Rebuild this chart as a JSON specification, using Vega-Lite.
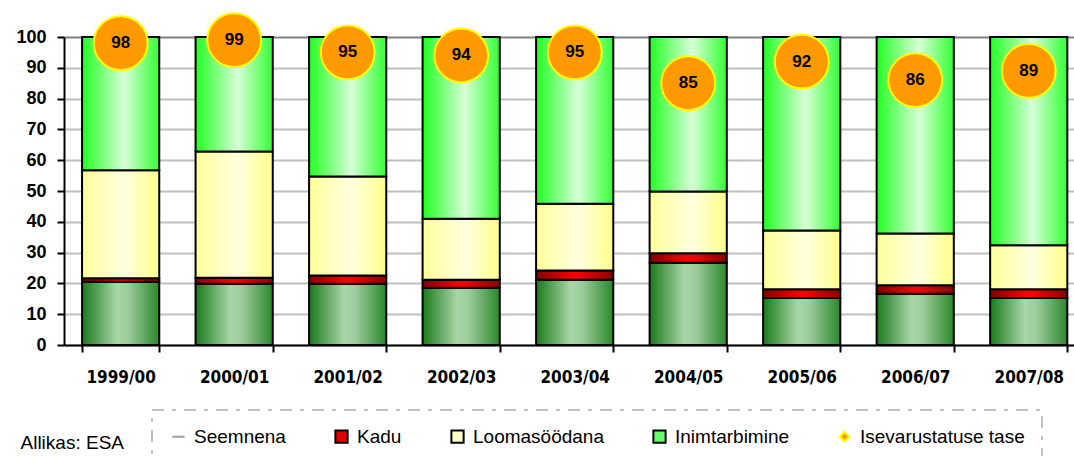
{
  "$schema": "https://vega.github.io/schema/vega-lite/v6.json",
  "width": 1010,
  "height": 308,
  "autosize": {"type": "none"},
  "padding": {"left": 64, "top": 37, "right": 0, "bottom": 111},
  "background": "white",
  "config": {"view": {"stroke": null}, "font": "Liberation Sans"},
  "datasets": {
    "bars": [
      {"period": "1999/00", "kat": "Seemnena", "ord": 1, "value": 20.5},
      {"period": "1999/00", "kat": "Kadu", "ord": 2, "value": 1.2},
      {"period": "1999/00", "kat": "Loomasöödana", "ord": 3, "value": 35.0},
      {"period": "1999/00", "kat": "Inimtarbimine", "ord": 4, "value": 43.3},
      {"period": "2000/01", "kat": "Seemnena", "ord": 1, "value": 19.9},
      {"period": "2000/01", "kat": "Kadu", "ord": 2, "value": 1.9},
      {"period": "2000/01", "kat": "Loomasöödana", "ord": 3, "value": 41.0},
      {"period": "2000/01", "kat": "Inimtarbimine", "ord": 4, "value": 37.2},
      {"period": "2001/02", "kat": "Seemnena", "ord": 1, "value": 19.9},
      {"period": "2001/02", "kat": "Kadu", "ord": 2, "value": 2.7},
      {"period": "2001/02", "kat": "Loomasöödana", "ord": 3, "value": 32.1},
      {"period": "2001/02", "kat": "Inimtarbimine", "ord": 4, "value": 45.3},
      {"period": "2002/03", "kat": "Seemnena", "ord": 1, "value": 18.6},
      {"period": "2002/03", "kat": "Kadu", "ord": 2, "value": 2.6},
      {"period": "2002/03", "kat": "Loomasöödana", "ord": 3, "value": 19.8},
      {"period": "2002/03", "kat": "Inimtarbimine", "ord": 4, "value": 59.0},
      {"period": "2003/04", "kat": "Seemnena", "ord": 1, "value": 21.2},
      {"period": "2003/04", "kat": "Kadu", "ord": 2, "value": 3.0},
      {"period": "2003/04", "kat": "Loomasöödana", "ord": 3, "value": 21.7},
      {"period": "2003/04", "kat": "Inimtarbimine", "ord": 4, "value": 54.1},
      {"period": "2004/05", "kat": "Seemnena", "ord": 1, "value": 26.7},
      {"period": "2004/05", "kat": "Kadu", "ord": 2, "value": 3.1},
      {"period": "2004/05", "kat": "Loomasöödana", "ord": 3, "value": 20.0},
      {"period": "2004/05", "kat": "Inimtarbimine", "ord": 4, "value": 50.2},
      {"period": "2005/06", "kat": "Seemnena", "ord": 1, "value": 15.3},
      {"period": "2005/06", "kat": "Kadu", "ord": 2, "value": 2.8},
      {"period": "2005/06", "kat": "Loomasöödana", "ord": 3, "value": 19.1},
      {"period": "2005/06", "kat": "Inimtarbimine", "ord": 4, "value": 62.8},
      {"period": "2006/07", "kat": "Seemnena", "ord": 1, "value": 16.6},
      {"period": "2006/07", "kat": "Kadu", "ord": 2, "value": 2.8},
      {"period": "2006/07", "kat": "Loomasöödana", "ord": 3, "value": 16.8},
      {"period": "2006/07", "kat": "Inimtarbimine", "ord": 4, "value": 63.8},
      {"period": "2007/08", "kat": "Seemnena", "ord": 1, "value": 15.3},
      {"period": "2007/08", "kat": "Kadu", "ord": 2, "value": 2.8},
      {"period": "2007/08", "kat": "Loomasöödana", "ord": 3, "value": 14.3},
      {"period": "2007/08", "kat": "Inimtarbimine", "ord": 4, "value": 67.6}
    ],
    "tase": [
      {"period": "1999/00", "tase": 98},
      {"period": "2000/01", "tase": 99},
      {"period": "2001/02", "tase": 95},
      {"period": "2002/03", "tase": 94},
      {"period": "2003/04", "tase": 95},
      {"period": "2004/05", "tase": 85},
      {"period": "2005/06", "tase": 92},
      {"period": "2006/07", "tase": 86},
      {"period": "2007/08", "tase": 89}
    ]
  },
  "encoding": {
    "x": {
      "field": "period", "type": "ordinal",
      "scale": {"paddingInner": 0.32, "paddingOuter": 0.109, "align": 0.73},
      "axis": {"title": "Allikas: ESA", "titleX": -44, "titleY": 103, "titleAlign": "left", "titleAnchor": "start", "titleBaseline": "alphabetic", "titleFontWeight": "normal", "titleFontSize": 19, "titleFont": "Liberation Sans", "titleColor": "black",
        "labelAngle": 0, "tickBand": "extent", "domainColor": "black", "domainWidth": 2, "tickColor": "black", "tickWidth": 2, "tickSize": 7, "labelPadding": 17, "labelFontSize": 17, "labelFontWeight": "bold", "labelFont": "Liberation Sans Narrow, DejaVu Sans Condensed, sans-serif", "labelColor": "black"}
    },
    "y": {"type": "quantitative",
      "scale": {"domain": [0, 100], "nice": false},
      "axis": {"title": null, "values": [0, 10, 20, 30, 40, 50, 60, 70, 80, 90, 100], "labelOverlap": false, "labelFont": "Liberation Sans", "labelFontSize": 18, "labelFontWeight": "bold", "labelColor": "black", "domainColor": "black", "domainWidth": 2, "tickColor": "black", "tickWidth": 2, "tickSize": 7, "labelPadding": 11, "gridColor": {"condition": {"test": "datum.value === 100", "value": "#808080"}, "value": "#c0c0c0"}, "gridWidth": 2}
    }
  },
  "layer": [
    {
      "data": {"name": "bars"},
      "transform": [
        {"stack": "value", "groupby": ["period"], "sort": [{"field": "ord", "order": "ascending"}], "as": ["y0", "y1"]}
      ],
      "encoding": {
        "y": {"field": "y0", "type": "quantitative"},
        "y2": {"field": "y1"}
      },
      "layer": [
        {
          "mark": {"type": "bar"},
          "encoding": {
            "color": {
              "field": "kat", "type": "nominal",
              "scale": {"domain": ["Seemnena", "Kadu", "Loomasöödana", "Inimtarbimine", "Isevarustatuse tase"], "range": ["#3a8f3a", "#e00000", "#ffffc0", "#66ff66", "#ff9900"]},
              "legend": {
                "orient": "none", "legendX": 88, "legendY": 373, "direction": "horizontal", "title": null,
                "labelFontSize": 19, "labelFont": "Liberation Sans", "labelColor": "black", "labelLimit": 400,
                "symbolSize": 150, "columnPadding": 45, "padding": 17, "strokeColor": "#c0c0c0", "labelOffset": 6,
                "encode": {
                  "legend": {"update": {"strokeDash": {"value": [12, 8, 4, 8]}, "strokeWidth": {"value": 2}}},
                  "symbols": {"update": {
                    "shape": {"signal": "datum.value === 'Seemnena' ? 'stroke' : datum.value === 'Isevarustatuse tase' ? 'diamond' : 'square'"},
                    "stroke": {"signal": "datum.value === 'Seemnena' ? '#a0a0a0' : datum.value === 'Isevarustatuse tase' ? '#ffff00' : '#000000'"},
                    "strokeWidth": {"value": 2},
                    "size": {"signal": "datum.value === 'Isevarustatuse tase' ? 90 : 150"},
                    "opacity": {"value": 1}
                  }}
                }
              }
            }
          }
        },
        {
          "transform": [{"filter": "datum.kat === 'Seemnena'"}],
          "mark": {"type": "bar", "stroke": "black", "strokeWidth": 2,
            "fill": {"gradient": "linear", "x1": 0, "x2": 1, "y1": 0, "y2": 0, "stops": [
              {"offset": 0, "color": "#1a7a1a"}, {"offset": 0.45, "color": "#a8d6a8"}, {"offset": 0.6, "color": "#9ccc9c"}, {"offset": 1, "color": "#2a882a"}]}}
        },
        {
          "transform": [{"filter": "datum.kat === 'Kadu'"}],
          "mark": {"type": "bar", "stroke": "black", "strokeWidth": 2,
            "fill": {"gradient": "linear", "x1": 0, "x2": 1, "y1": 0, "y2": 0, "stops": [
              {"offset": 0, "color": "#800000"}, {"offset": 0.5, "color": "#ff0000"}, {"offset": 1, "color": "#880000"}]}}
        },
        {
          "transform": [{"filter": "datum.kat === 'Loomasöödana'"}],
          "mark": {"type": "bar", "stroke": "black", "strokeWidth": 2,
            "fill": {"gradient": "linear", "x1": 0, "x2": 1, "y1": 0, "y2": 0, "stops": [
              {"offset": 0, "color": "#ffff99"}, {"offset": 0.55, "color": "#ffffe0"}, {"offset": 1, "color": "#ffff88"}]}}
        },
        {
          "transform": [{"filter": "datum.kat === 'Inimtarbimine'"}],
          "mark": {"type": "bar", "stroke": "black", "strokeWidth": 2,
            "fill": {"gradient": "linear", "x1": 0, "x2": 1, "y1": 0, "y2": 0, "stops": [
              {"offset": 0, "color": "#22ff22"}, {"offset": 0.55, "color": "#d8ffd8"}, {"offset": 1, "color": "#33ff33"}]}}
        }
      ]
    },
    {
      "data": {"name": "tase"},
      "encoding": {
        "y": {"field": "tase", "type": "quantitative"}
      },
      "layer": [
        {"mark": {"type": "point", "shape": "circle", "filled": true, "fill": "#ff9900", "stroke": "#ffff00", "strokeWidth": 2, "size": 2900, "opacity": 1}},
        {"mark": {"type": "text", "fontSize": 17, "fontWeight": "bold", "color": "black", "baseline": "middle", "align": "center", "font": "Liberation Sans"},
          "encoding": {"text": {"field": "tase", "type": "quantitative"}}}
      ]
    }
  ]
}
